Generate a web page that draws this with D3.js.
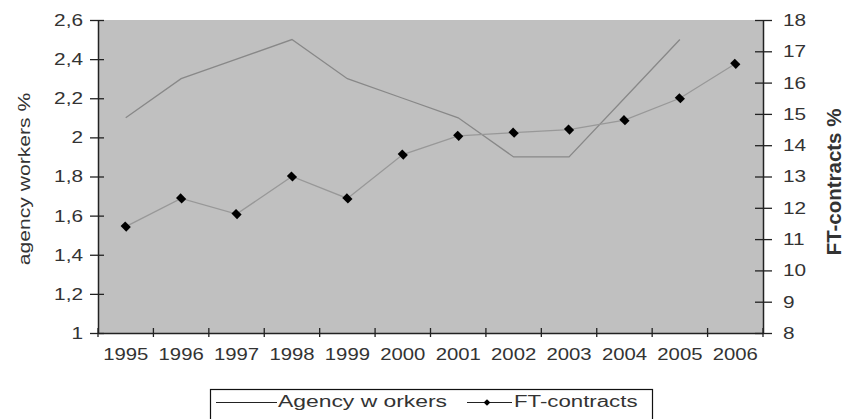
<!DOCTYPE html>
<html>
<head>
<meta charset="utf-8">
<script src="https://cdn.jsdelivr.net/npm/d3@7"></script>
<style>
  body { margin: 0; background: #fff; }
  svg { display: block; }
  svg text { font-family: "Liberation Sans", Arial, sans-serif; }
</style>
</head>
<body>
<svg id="chart" width="846" height="419"></svg>
<script>
const years = ["1995","1996","1997","1998","1999","2000","2001","2002","2003","2004","2005","2006"];
const agencyWorkers = [2.1, 2.3, 2.4, 2.5, 2.3, 2.2, 2.1, 1.9, 1.9, 2.2, 2.5, null];
const ftContracts = [11.4, 12.3, 11.8, 13.0, 12.3, 13.7, 14.3, 14.4, 14.5, 14.8, 15.5, 16.6];
const leftTicks = [1, 1.2, 1.4, 1.6, 1.8, 2, 2.2, 2.4, 2.6];
const rightTicks = [8, 9, 10, 11, 12, 13, 14, 15, 16, 17, 18];
const seriesNames = ["Agency w orkers", "FT-contracts"];
const leftTitle = "agency workers %";
const rightTitle = "FT-contracts %";

const svg = d3.select("#chart");
const m = { left: 98, right: 846 - 763, top: 20, bottom: 419 - 333 };
const W = 846 - m.left - m.right, H = 419 - m.top - m.bottom;

const x = d3.scaleBand().domain(years).range([0, W]);
const yL = d3.scaleLinear().domain([1, 2.6]).range([H, 0]);
const yR = d3.scaleLinear().domain([8, 18]).range([H, 0]);

const g = svg.append("g").attr("transform", `translate(${m.left},${m.top})`);

g.append("rect").attr("width", W).attr("height", H).attr("fill", "#c0c0c0");

const fmt = d => String(d).replace(".", ",");
const txtCol = "#333";
const FF = "'Liberation Sans', Arial, sans-serif";

// left axis
const ax = g.append("g").call(d3.axisLeft(yL).tickValues(leftTicks).tickFormat(fmt).tickSizeOuter(0))
  .attr("font-family", FF);
ax.select(".domain").attr("stroke", "#222").attr("stroke-width", 1.5);
ax.selectAll(".tick line").attr("x1", -8).attr("x2", 6).attr("stroke", "#222").attr("stroke-width", 1.3);
ax.selectAll(".tick text").attr("x", null).attr("dy", "0.34em")
  .attr("transform", "translate(-15,0) scale(1.3,1)")
  .attr("font-size", 16).attr("fill", txtCol);

// right axis
const ar = g.append("g").attr("transform", `translate(${W},0)`)
  .call(d3.axisRight(yR).tickValues(rightTicks).tickSizeOuter(0))
  .attr("font-family", FF);
ar.select(".domain").attr("stroke", "#222").attr("stroke-width", 1.5);
ar.selectAll(".tick line").attr("x1", -8).attr("x2", 9).attr("stroke", "#222").attr("stroke-width", 1.3);
ar.selectAll(".tick text").attr("x", null).attr("dy", "0.34em")
  .attr("transform", "translate(20,0) scale(1.3,1)")
  .attr("font-size", 16).attr("fill", txtCol);

// bottom axis
const xTickPos = d3.range(years.length + 1).map(i => i * x.bandwidth());
const ab = g.append("g").attr("transform", `translate(0,${H})`)
  .call(d3.axisBottom(x).tickSize(0).tickSizeOuter(0))
  .attr("font-family", FF);
ab.select(".domain").attr("stroke", "#222").attr("stroke-width", 1.5);
ab.selectAll(".tick line").remove();
ab.selectAll(".tick text").attr("y", null).attr("dy", 0)
  .attr("transform", "translate(0,27) scale(1.27,1)")
  .attr("font-size", 16).attr("fill", txtCol);
ab.selectAll(".bt").data(xTickPos).join("line").attr("class", "bt")
  .attr("x1", d => d).attr("x2", d => d).attr("y1", -5).attr("y2", 4)
  .attr("stroke", "#222").attr("stroke-width", 1.3);

// series
const cx = d => x(d) + x.bandwidth() / 2;
const lineA = d3.line().defined(d => d[1] != null).x(d => cx(d[0])).y(d => yL(d[1]));
const lineF = d3.line().x(d => cx(d[0])).y(d => yR(d[1]));

g.append("path").datum(years.map((y, i) => [y, agencyWorkers[i]]))
  .attr("d", lineA).attr("fill", "none").attr("stroke", "#888").attr("stroke-width", 1.3);
g.append("path").datum(years.map((y, i) => [y, ftContracts[i]]))
  .attr("d", lineF).attr("fill", "none").attr("stroke", "#989898").attr("stroke-width", 1.3);

const diamond = d3.symbol().type(d3.symbolSquare).size(52);
g.selectAll(".mk").data(years.map((y, i) => [y, ftContracts[i]])).join("path").attr("class", "mk")
  .attr("d", diamond)
  .attr("transform", d => `translate(${cx(d[0])},${yR(d[1])}) rotate(45) scale(1.1,0.9)`)
  .attr("fill", "#000");

// titles
svg.append("text").text(leftTitle)
  .attr("transform", "translate(30,179) rotate(-90) scale(1.28,1)")
  .attr("text-anchor", "middle").attr("font-size", 16.5).attr("fill", txtCol);
svg.append("text").text(rightTitle)
  .attr("transform", "translate(841,182) rotate(-90) scale(1.05,1)")
  .attr("text-anchor", "middle").attr("font-size", 19.5).attr("font-weight", "bold").attr("fill", txtCol);

// legend
const lg = svg.append("g");
lg.append("rect").attr("x", 210.5).attr("y", 389.5).attr("width", 442).attr("height", 40)
  .attr("fill", "#fff").attr("stroke", "#111").attr("stroke-width", 1.2);
lg.append("line").attr("x1", 216).attr("x2", 277).attr("y1", 402.5).attr("y2", 402.5)
  .attr("stroke", "#222").attr("stroke-width", 1.2);
lg.append("text").text(seriesNames[0]).attr("transform", "translate(278,407) scale(1.43,1)")
  .attr("font-size", 16).attr("fill", txtCol);
lg.append("line").attr("x1", 467).attr("x2", 512).attr("y1", 402.5).attr("y2", 402.5)
  .attr("stroke", "#222").attr("stroke-width", 1.2);
lg.append("path").attr("d", d3.symbol().type(d3.symbolSquare).size(22))
  .attr("transform", "translate(487,402.5) rotate(45)").attr("fill", "#000");
lg.append("text").text(seriesNames[1]).attr("transform", "translate(514,407) scale(1.39,1)")
  .attr("font-size", 16).attr("fill", txtCol);
</script>
</body>
</html>
